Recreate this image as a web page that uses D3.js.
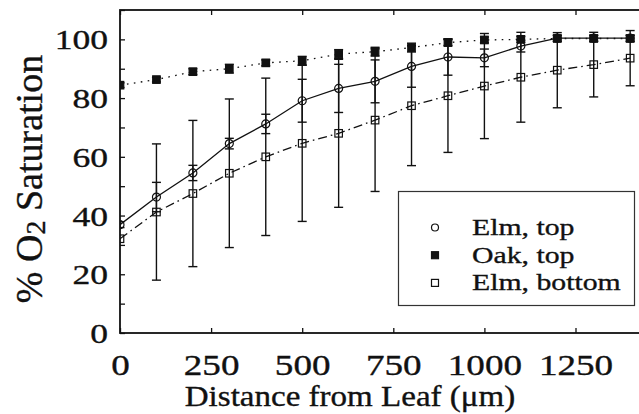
<!DOCTYPE html>
<html>
<head>
<meta charset="utf-8">
<script src="https://cdn.jsdelivr.net/npm/d3@7"></script>
<style>
  body { margin: 0; background: #fff; }
  svg { display: block; }
  text { font-family: "Liberation Serif", "Times New Roman", serif; fill: #111; stroke: #111; stroke-width: 0.35; }
</style>
</head>
<body>
<div id="chart"></div>
<script>
'use strict';

// distance from leaf (um)
var distances = [0, 100, 200, 300, 400, 500, 600, 700, 800, 900, 1000, 1100, 1200, 1300, 1400];

// % O2 saturation
var elmTop      = [36.9, 46.3, 54.5, 64.5, 71.2, 79.1, 83.3, 85.7, 90.8, 94.0, 93.7, 97.7, 100.4, 100.4, 100.4];
var elmTopErr   = [1.0, 5.0, 2.6, 1.8, 3.3, 7.3, 8.2, 7.3, 7.1, 6.2, 3.0, 2.0, 1.0, 1.0, 1.0];
var oakTop      = [84.4, 86.3, 89.0, 90.0, 92.0, 92.7, 95.0, 95.8, 97.2, 98.9, 99.8, 100.0, 100.3, 100.3, 100.3];
var oakTopErr   = [0.8, 0.8, 1.0, 1.5, 1.0, 1.5, 1.5, 1.5, 1.5, 1.0, 1.0, 1.0, 1.0, 1.0, 1.0];
var elmBot      = [32.1, 41.2, 47.5, 54.4, 60.0, 64.6, 68.0, 72.5, 77.4, 80.8, 84.1, 87.1, 89.5, 91.4, 93.6];
var elmBotErr   = [0, 23.2, 24.9, 25.3, 26.8, 26.6, 25.2, 24.3, 20.4, 19.3, 17.9, 15.3, 12.8, 11.0, 9.4];

var xTicks = [0, 250, 500, 750, 1000, 1250];
var yTicks = [0, 10, 20, 30, 40, 50, 60, 70, 80, 90, 100, 110];

var seriesNames = ["Elm, top", "Oak, top", "Elm, bottom"];

var W = 639, H = 414;
var margins = {top: 10, left: 120, bottom: 333};

var svg = d3.select("#chart").append("svg")
    .attr("width", W)
    .attr("height", H);

var x = d3.scaleLinear().domain([0, 1430]).range([margins.left, margins.left + 1430 * 0.3644]);
var y = d3.scaleLinear().domain([0, 110]).range([margins.bottom, margins.top]);

// clip region for plot content
svg.append("clipPath").attr("id", "plotclip")
  .append("rect")
    .attr("x", x(0)).attr("y", y(110))
    .attr("width", x(1430) - x(0)).attr("height", y(0) - y(110));

// axes (ticks point inward)
var yAxis = svg.append("g")
    .attr("transform", "translate(" + x(0) + ",0)")
    .call(d3.axisLeft(y).tickValues(yTicks).tickSizeInner(-5).tickSizeOuter(0).tickPadding(10)
        .tickFormat(function(d) { return (d % 20 === 0 && d <= 100) ? d : ""; }));
yAxis.selectAll("text")
    .attr("x", null).attr("dy", null)
    .attr("font-size", 28)
    .attr("dominant-baseline", "central")
    .attr("transform", "translate(-12,0) scale(1.27,1)");

var xAxis = svg.append("g")
    .attr("transform", "translate(0," + y(0) + ")")
    .call(d3.axisBottom(x).tickValues(xTicks).tickSizeInner(-5).tickSizeOuter(0)
        .tickFormat(d3.format("d")));
xAxis.selectAll("text")
    .attr("y", null).attr("dy", null)
    .attr("font-size", 29)
    .attr("transform", "translate(0,42) scale(1.28,1)");

var xTop = svg.append("g")
    .attr("transform", "translate(0," + y(110) + ")")
    .call(d3.axisTop(x).tickValues(xTicks).tickSizeInner(-5).tickSizeOuter(0).tickFormat(""));

[yAxis, xAxis, xTop].forEach(function(g) {
  g.select(".domain").remove();
  g.selectAll("line").attr("stroke", "#111").attr("stroke-width", 1.3);
});

// frame
svg.append("rect")
    .attr("x", x(0)).attr("y", y(110))
    .attr("width", x(1430) - x(0)).attr("height", y(0) - y(110))
    .attr("fill", "none").attr("stroke", "#111").attr("stroke-width", 1.8);

var plot = svg.append("g").attr("clip-path", "url(#plotclip)");

function rows(vals, errs) {
  return distances.map(function(d, i) { return {x: d, v: vals[i], e: errs[i]}; });
}

var series = [
  {name: seriesNames[0], data: rows(elmTop, elmTopErr), dash: null,          marker: "circle"},
  {name: seriesNames[1], data: rows(oakTop, oakTopErr), dash: "1.6,5.4",     marker: "filled"},
  {name: seriesNames[2], data: rows(elmBot, elmBotErr), dash: "9,4,1.6,4",   marker: "square"}
];

// error bars
series.forEach(function(s) {
  var eb = plot.append("g").selectAll("g")
    .data(s.data.filter(function(d) { return d.e > 0; }))
    .enter().append("g");
  eb.append("line")
    .attr("x1", function(d) { return x(d.x); }).attr("x2", function(d) { return x(d.x); })
    .attr("y1", function(d) { return y(d.v - d.e); }).attr("y2", function(d) { return y(d.v + d.e); });
  [-1, 1].forEach(function(sign) {
    eb.append("line")
      .attr("x1", function(d) { return x(d.x) - 4.5; }).attr("x2", function(d) { return x(d.x) + 4.5; })
      .attr("y1", function(d) { return y(d.v + sign * d.e); }).attr("y2", function(d) { return y(d.v + sign * d.e); });
  });
  eb.selectAll("line").attr("stroke", "#111").attr("stroke-width", 1.4);
});

// lines
var line = d3.line().x(function(d) { return x(d.x); }).y(function(d) { return y(d.v); });
series.forEach(function(s) {
  plot.append("path")
    .datum(s.data)
    .attr("d", line)
    .attr("fill", "none")
    .attr("stroke", "#111")
    .attr("stroke-width", 1.3)
    .attr("stroke-dasharray", s.dash);
});

function drawMarker(g, kind, size) {
  if (kind === "circle") {
    g.append("circle").attr("r", size / 2)
      .attr("fill", "#fff").attr("fill-opacity", 0).attr("stroke", "#111").attr("stroke-width", 1.2);
  } else {
    g.append("rect")
      .attr("x", -size / 2).attr("y", -size / 2).attr("width", size).attr("height", size)
      .attr("fill", kind === "filled" ? "#111" : "#fff")
      .attr("fill-opacity", kind === "filled" ? 1 : 0)
      .attr("stroke", "#111").attr("stroke-width", 1.2);
  }
}

series.forEach(function(s) {
  plot.append("g").selectAll("g")
    .data(s.data)
    .enter().append("g")
    .attr("transform", function(d) { return "translate(" + x(d.x) + "," + y(d.v) + ")"; })
    .each(function() { drawMarker(d3.select(this), s.marker, s.marker === "circle" ? 8 : 7.5); });
});

// legend
var legend = svg.append("g");
legend.append("rect")
    .attr("x", 398.5).attr("y", 191.5).attr("width", 236).attr("height", 114)
    .attr("fill", "#fff").attr("stroke", "#333").attr("stroke-width", 1.2);

var lg = legend.selectAll("g.item")
    .data(series)
    .enter().append("g")
    .attr("class", "item")
    .attr("transform", function(d, i) { return "translate(0," + (235 + i * 27.7) + ")"; });
lg.each(function(s) {
  var m = d3.select(this).append("g").attr("transform", "translate(435,-7.5)");
  drawMarker(m, s.marker, 7);
});
lg.append("text")
    .attr("transform", "translate(472,0) scale(1.24,1)")
    .attr("font-size", 24)
    .text(function(d) { return d.name; });

// axis titles
svg.append("text")
    .attr("transform", "translate(350,406) scale(1.14,1)")
    .attr("text-anchor", "middle")
    .attr("font-size", 29)
    .text("Distance from Leaf (\u03bcm)");

var yt = svg.append("text")
    .attr("transform", "translate(42,179) rotate(-90)")
    .attr("text-anchor", "middle")
    .attr("font-size", 38);
yt.append("tspan").text("% O");
yt.append("tspan").attr("font-size", 28).attr("dy", 3).text("2");
yt.append("tspan").attr("dy", -3).text(" Saturation");
</script>
</body>
</html>
